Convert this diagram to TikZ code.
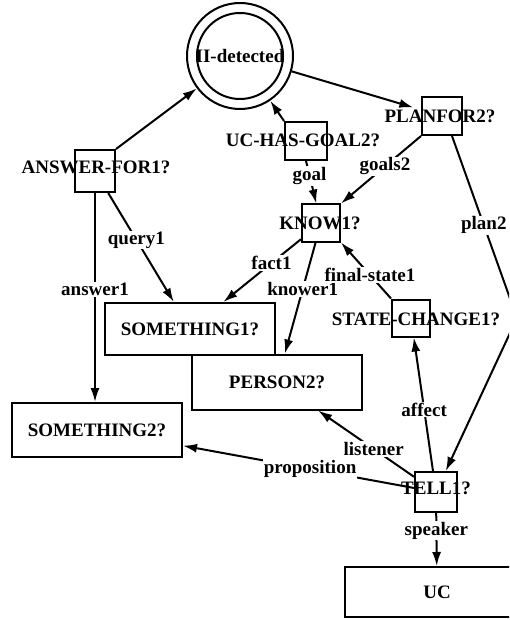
\documentclass[tikz,border=0pt]{standalone}
\usepackage{fontspec}
\setmainfont{Liberation Serif}
\usetikzlibrary{arrows.meta}
\newcommand{\fs}{\fontsize{19}{21}\selectfont\bfseries}
\tikzset{
  lw/.style={line width=2pt},
  boxnode/.style={draw, line width=2pt, inner sep=0pt},
  wide/.style={boxnode, minimum width=170pt, minimum height=53pt, font=\fs},
  txt/.style={font=\fs, inner sep=0pt},
  lbl/.style={font=\fs, fill=white, inner sep=1pt},
  conn/.style={line width=2pt, -{Latex[length=14pt,width=9pt]}},
}
\begin{document}
\begin{tikzpicture}[x=1pt,y=-1pt]
\useasboundingbox (0,0) rectangle (509,620);
\clip (0,0) rectangle (509,620);
% double circle
\node[circle, draw, lw, minimum size=106pt, inner sep=0pt, font=\fs] (det) at (240,56) {II-detected};
\draw[lw] (det.center) circle (43pt);
% texts of square nodes
\node[txt] (ansT) at (96,167) {ANSWER-FOR1?};
\node[txt] (ucgT) at (303,140) {UC-HAS-GOAL2?};
\node[txt] (planT) at (440,116) {PLANFOR2?};
\node[txt] (knowT) at (320,223) {KNOW1?};
\node[txt] (scT) at (416,319) {STATE-CHANGE1?};
\node[txt] (tellT) at (436,488) {TELL1?};
% square boxes
\node[boxnode, minimum width=40pt, minimum height=42pt] (ans) at (95,171) {};
\node[boxnode, minimum width=42pt, minimum height=38pt] (ucg) at (306,141) {};
\node[boxnode, minimum width=40pt, minimum height=38pt] (plan) at (442,116) {};
\node[boxnode, minimum width=38pt, minimum height=37pt] (know) at (321,223) {};
\node[boxnode, minimum width=38pt, minimum height=37pt] (sc) at (411,318) {};
\node[boxnode, minimum width=42pt, minimum height=40pt] (tell) at (436,492) {};
% wide boxes
\node[wide, minimum height=52pt] (s1) at (190,329) {SOMETHING1?};
\node[wide, minimum height=55pt] (person) at (277,382) {PERSON2?};
\node[wide, minimum height=54pt] (s2) at (97,430) {SOMETHING2?};
\node[wide, minimum width=184pt, minimum height=50pt] (uc) at (437,592) {UC};
\coordinate (bend) at (517,318);
% connectors
\draw[conn] (ans.north east) -- (det);
\draw[conn, shorten >=8pt] (det) -- (plan);
\draw[conn] (ucg.north west) -- (det);
\draw[conn] (ucg.south) -- node[lbl,pos=0.35]{goal} (know);
\draw[conn] (plan.south west) -- node[lbl,pos=0.45]{goals2} (know.north east);
\draw[conn] ([xshift=10pt]plan.south) -- node[lbl,pos=0.49]{plan2} (bend) -- (tell);
\draw[conn] (ans) -- node[lbl,pos=0.43]{query1} (s1);
\draw[conn] (ans.south) -- node[lbl,pos=0.46]{answer1} (ans.south |- s2.north);
\draw[conn] (know) -- node[lbl,pos=0.38]{fact1} (s1);
\draw[conn] (know) -- node[lbl,pos=0.42]{knower1} (person);
\draw[conn] (sc.north west) -- node[lbl,pos=0.42]{final-state1} (know.south east);
\draw[conn] (tell) -- node[lbl,pos=0.46]{affect} (sc);
\draw[conn] (tell) -- node[lbl,pos=0.42]{listener} (person);
\draw[conn] (tell) -- node[lbl,pos=0.45]{proposition} (s2);
\draw[conn] (tell) -- node[lbl,pos=0.33]{speaker} (uc);
\end{tikzpicture}
\end{document}
